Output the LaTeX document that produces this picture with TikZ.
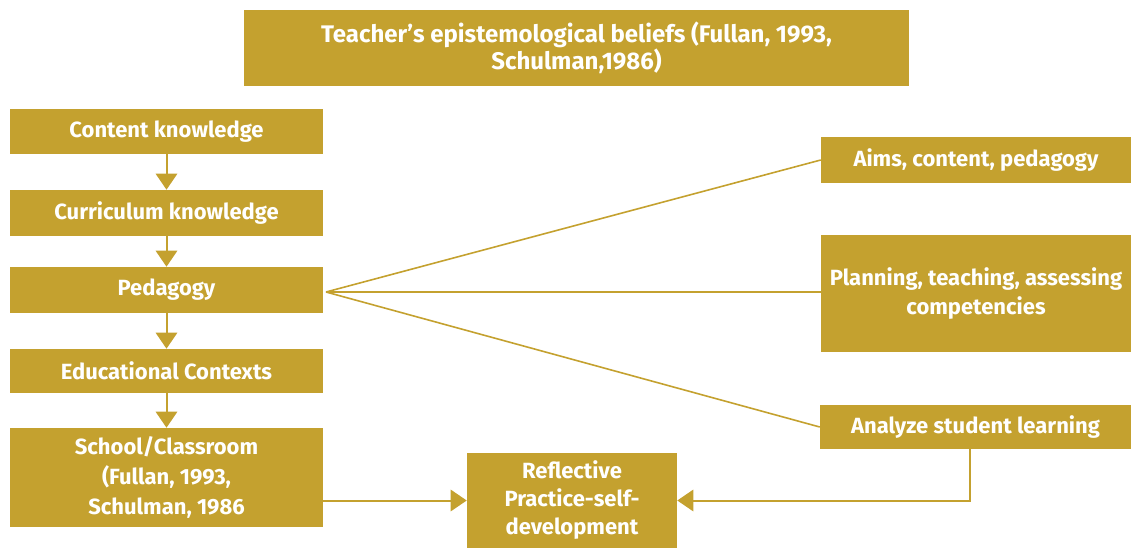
\documentclass[tikz,border=0pt]{standalone}
\usepackage{fontspec}
\setmainfont{Fira Sans}
\usetikzlibrary{arrows.meta}
\definecolor{ochre}{RGB}{196,161,47}
\begin{document}
\begin{tikzpicture}[x=0.75pt,y=0.75pt,yscale=-1,xscale=1,
    box/.style={fill=ochre,text=white,font=\bfseries\fontsize{16.5}{22}\selectfont,align=center,inner sep=0pt},
    flow/.style={draw=ochre,line width=1.5pt,-{Triangle[width=16pt,length=12pt]}},
    fan/.style={draw=ochre,line width=1.2pt}]
%set diagram size: 1131 x 549
\useasboundingbox (0,0) rectangle (1131,549);

% Text Node
\node [box,minimum width=498.75pt,minimum height=57pt,font=\bfseries\fontsize{18}{20.25}\selectfont] (beliefs) at (576.5,48) {Teacher’s epistemological beliefs (Fullan, 1993,\\Schulman,1986)};
% Text Node
\node [box,minimum width=234.75pt,minimum height=34pt] (content) at (166.5,131.5) {Content knowledge};
% Text Node
\node [box,minimum width=234.75pt,minimum height=34.5pt] (curriculum) at (166.5,213) {Curriculum knowledge};
% Text Node
\node [box,minimum width=234.75pt,minimum height=34.5pt] (pedagogy) at (166.5,290) {Pedagogy};
% Text Node
\node [box,minimum width=234.75pt,minimum height=33pt] (contexts) at (166.5,371) {Educational Contexts};
% Text Node
\node [box,minimum width=234.75pt,minimum height=74.25pt,font=\bfseries\fontsize{16.5}{22.5}\selectfont] (school) at (166.5,477.5) {School/Classroom\\(Fullan, 1993,\\Schulman, 1986};
% Text Node
\node [box,minimum width=157.5pt,minimum height=71.25pt,font=\bfseries\fontsize{16.5}{21}\selectfont] (reflective) at (572,500.5) {Reflective\\Practice-self-\\development};
% Text Node
\node [box,minimum width=232.5pt,minimum height=34.5pt] (aims) at (976,160) {Aims, content, pedagogy};
% Text Node
\node [box,minimum width=232.5pt,minimum height=87.75pt] (planning) at (976,293.5) {Planning, teaching, assessing\\competencies};
% Text Node
\node [box,minimum width=233.25pt,minimum height=33pt] (analyze) at (975.5,427) {Analyze student learning};

%Straight Lines
\draw [flow] (content) -- (curriculum);
\draw [flow] (curriculum) -- (pedagogy);
\draw [flow] (pedagogy) -- (contexts);
\draw [flow] (contexts) -- (school);
%Straight Lines
\coordinate (hub) at (326,292);
\draw [fan] (hub) -- (aims.west);
\draw [fan] (hub) -- (planning.west |- hub);
\draw [fan] (hub) -- (analyze.west);
%Straight Lines
\draw [flow] (school.east |- reflective) -- (reflective.west);
\draw [flow] (analyze.south -| 970,0) |- (reflective.east);
\end{tikzpicture}
\end{document}
